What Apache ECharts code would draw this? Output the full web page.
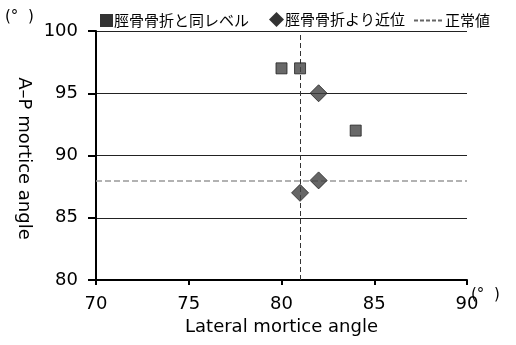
<!DOCTYPE html>
<html><head><meta charset="utf-8">
<script src="https://cdn.jsdelivr.net/npm/echarts@6/dist/echarts.min.js"></script>
<style>html,body{margin:0;padding:0;background:#fff}#c{width:516px;height:345px}</style>
</head><body><div id="c"></div>
<script>
const sameLevel = [[80, 97], [81, 97], [84, 92]];
const proximal = [[82, 95], [82, 88], [81, 87]];
const normalX = 81;
const normalY = 88;
const xTicks = [70, 75, 80, 85, 90];
const yTicks = [80, 85, 90, 95, 100];
const seriesNames = ['脛骨骨折と同レベル', '脛骨骨折より近位', '正常値'];

const chart = echarts.init(document.getElementById('c'));
const numFont = 'DejaVu Sans, sans-serif';
const jpFont = 'Noto Sans CJK JP, sans-serif';
const legText = {fontFamily: jpFont, fontSize: 15, color: '#000', padding: [0,0,0,-4]};
chart.setOption({
  animation: false,
  backgroundColor: '#fff',
  grid: {left: 96, right: 49, top: 31, bottom: 65},
  legend: [
    {top: 8, left: 95, itemWidth: 13, itemHeight: 13, textStyle: legText,
     data: [{name: seriesNames[0], icon: 'rect', itemStyle: {color: '#000', borderWidth: 0}}]},
    {top: 7, left: 264, itemWidth: 15, itemHeight: 15, textStyle: legText,
     data: [{name: seriesNames[1], icon: 'diamond', itemStyle: {color: '#000', borderWidth: 0}}]},
    {top: 8, left: 408, itemWidth: 30, itemHeight: 13, textStyle: legText,
     data: [{name: seriesNames[2], itemStyle: {opacity: 0}}]}
  ],
  xAxis: {
    type: 'value', min: xTicks[0], max: xTicks[xTicks.length-1], interval: 5,
    name: 'Lateral mortice angle', nameLocation: 'middle', nameGap: 38,
    nameTextStyle: {fontFamily: numFont, fontSize: 18, color: '#000'},
    axisLine: {lineStyle: {color: '#000', width: 2}},
    axisTick: {length: 5, lineStyle: {color: '#000', width: 2}},
    axisLabel: {fontFamily: numFont, fontSize: 18, color: '#000', margin: 15},
    splitLine: {show: false}
  },
  yAxis: {
    type: 'value', min: yTicks[0], max: yTicks[yTicks.length-1], interval: 5,
    name: 'A\u2013P mortice angle', nameLocation: 'middle', nameGap: 60, nameRotate: -90,
    nameTextStyle: {fontFamily: numFont, fontSize: 18, color: '#000', padding: [0, 0, 0, 6]},
    axisLine: {show: true, lineStyle: {color: '#000', width: 2}},
    axisTick: {show: true, length: 8, lineStyle: {color: '#000', width: 2}},
    axisLabel: {fontFamily: numFont, fontSize: 18, color: '#000', margin: 18},
    splitLine: {show: true, lineStyle: {color: '#222', width: 1}}
  },
  graphic: [
    {type: 'text', left: 5, top: 10, style: {text: '(°  )', font: '15px ' + numFont, fill: '#000'}},
    {type: 'text', left: 471, top: 288, style: {text: '(°  )', font: '15px ' + numFont, fill: '#000'}}
  ],
  series: [
    {
      name: seriesNames[2], type: 'line', data: [], symbol: 'none',
      lineStyle: {color: '#666', type: [4, 2], width: 1},
      markLine: {
        silent: true, symbol: 'none', label: {show: false},
        data: [
          {xAxis: normalX, lineStyle: {color: '#333', type: [5, 3], width: 1}},
          {yAxis: normalY, lineStyle: {color: '#999', type: [6, 3], width: 1.5}}
        ]
      }
    },
    {
      name: seriesNames[0], type: 'scatter', data: sameLevel, symbol: 'rect', symbolSize: 11,
      itemStyle: {color: '#444', borderColor: '#222', borderWidth: 1}, z: 5
    },
    {
      name: seriesNames[1], type: 'scatter', data: proximal, symbol: 'diamond', symbolSize: [17, 17],
      itemStyle: {color: '#404040', borderColor: '#222', borderWidth: 1}, z: 5
    }
  ]
});
</script></body></html>
